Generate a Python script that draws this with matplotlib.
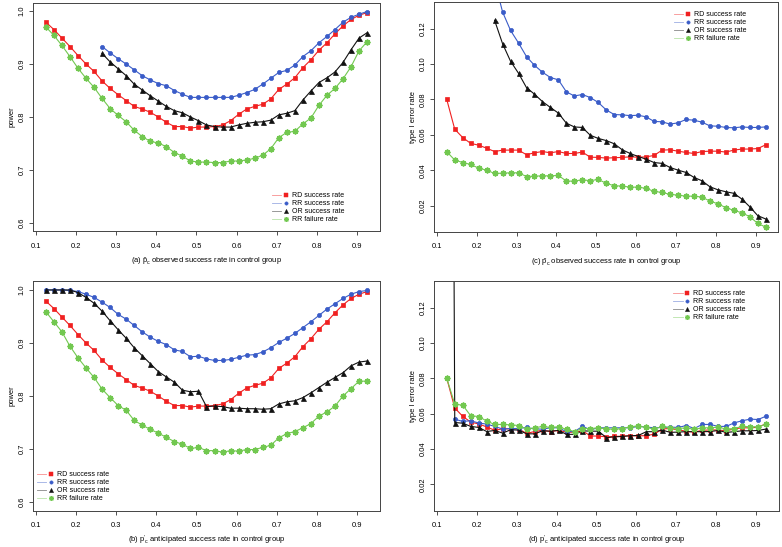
import numpy as np
import matplotlib
matplotlib.use("Agg")
import matplotlib.pyplot as plt
from matplotlib.lines import Line2D
from matplotlib.legend_handler import HandlerTuple

plt.rcParams['font.family'] = ['Liberation Sans', 'DejaVu Sans']
plt.rcParams['mathtext.default'] = 'regular'

nan = np.nan

# control-group success rate (x axis)
p_c = [0.125, 0.145, 0.165, 0.185, 0.205, 0.225, 0.245, 0.265, 0.285, 0.305,
       0.325, 0.345, 0.365, 0.385, 0.405, 0.425, 0.445, 0.465, 0.485, 0.505,
       0.525, 0.545, 0.565, 0.585, 0.605, 0.625, 0.645, 0.665, 0.685, 0.705,
       0.725, 0.745, 0.765, 0.785, 0.805, 0.825, 0.845, 0.865, 0.885, 0.905,
       0.925]

# power, RD success rate (same in panels a and b)
rd_power = [0.979, 0.965, 0.949, 0.933, 0.916, 0.900, 0.886, 0.868, 0.854, 0.842,
            0.831, 0.820, 0.815, 0.809, 0.800, 0.790, 0.782, 0.782, 0.779, 0.781,
            0.781, 0.782, 0.785, 0.793, 0.805, 0.815, 0.820, 0.824, 0.834, 0.852,
            0.862, 0.874, 0.893, 0.908, 0.926, 0.940, 0.957, 0.972, 0.984, 0.992,
            0.997]

# panel (a): observed p_c
rr_power_a = [nan, nan, nan, nan, nan, nan, nan, 0.933, 0.921, 0.910,
              0.900, 0.889, 0.878, 0.870, 0.863, 0.859, 0.850, 0.843, 0.837, 0.837,
              0.837, 0.837, 0.837, 0.837, 0.841, 0.846, 0.852, 0.862, 0.873, 0.884,
              0.888, 0.898, 0.914, 0.925, 0.940, 0.952, 0.965, 0.979, 0.988, 0.994,
              0.999]
or_power_a = [nan, nan, nan, nan, nan, nan, nan, 0.920, 0.904, 0.891,
              0.878, 0.862, 0.851, 0.840, 0.830, 0.820, 0.812, 0.808, 0.800, 0.793,
              0.785, 0.782, 0.781, 0.781, 0.785, 0.788, 0.790, 0.791, 0.794, 0.804,
              0.807, 0.812, 0.832, 0.849, 0.865, 0.874, 0.885, 0.903, 0.927, 0.949,
              0.959]
rrf_power_a = [0.970, 0.954, 0.935, 0.914, 0.892, 0.873, 0.856, 0.835, 0.816, 0.803,
               0.791, 0.775, 0.763, 0.754, 0.751, 0.744, 0.733, 0.726, 0.717, 0.715,
               0.715, 0.714, 0.714, 0.717, 0.717, 0.719, 0.722, 0.728, 0.740, 0.761,
               0.771, 0.773, 0.787, 0.798, 0.822, 0.841, 0.854, 0.872, 0.895, 0.925,
               0.942]

# panel (b): anticipated p'_c
rr_power_b = [1.000, 1.000, 1.000, 0.999, 0.997, 0.992, 0.986, 0.977, 0.967, 0.954,
              0.945, 0.933, 0.921, 0.911, 0.903, 0.897, 0.887, 0.884, 0.874, 0.875,
              0.870, 0.867, 0.867, 0.869, 0.873, 0.877, 0.878, 0.883, 0.891, 0.901,
              0.909, 0.918, 0.929, 0.940, 0.952, 0.964, 0.974, 0.984, 0.992, 0.997,
              0.999]
or_power_b = [1.000, 1.000, 1.000, 1.000, 0.995, 0.986, 0.975, 0.960, 0.942, 0.925,
              0.909, 0.891, 0.876, 0.861, 0.846, 0.836, 0.826, 0.811, 0.808, 0.809,
              0.780, 0.781, 0.780, 0.777, 0.777, 0.776, 0.776, 0.775, 0.776, 0.785,
              0.789, 0.791, 0.797, 0.806, 0.816, 0.826, 0.835, 0.844, 0.857, 0.864,
              0.866]
rrf_power_b = [0.959, 0.940, 0.921, 0.894, 0.872, 0.853, 0.835, 0.813, 0.797, 0.782,
               0.773, 0.754, 0.745, 0.737, 0.730, 0.722, 0.714, 0.709, 0.701, 0.703,
               0.697, 0.697, 0.694, 0.697, 0.696, 0.699, 0.699, 0.703, 0.707, 0.721,
               0.729, 0.733, 0.740, 0.748, 0.762, 0.770, 0.781, 0.800, 0.814, 0.828,
               0.828]

# type I error, RD success rate (same in panels c and d)
rd_t1 = [0.0800, 0.0632, 0.0585, 0.0552, 0.0542, 0.0525, 0.0506, 0.0514, 0.0514, 0.0514,
         0.0488, 0.0499, 0.0506, 0.0499, 0.0506, 0.0495, 0.0495, 0.0503, 0.0474, 0.0473,
         0.0469, 0.0471, 0.0473, 0.0476, 0.0474, 0.0476, 0.0484, 0.0514, 0.0516, 0.0508,
         0.0501, 0.0495, 0.0506, 0.0508, 0.0508, 0.0503, 0.0514, 0.0520, 0.0520, 0.0523,
         0.0544]

# panel (c): observed p_c
rr_t1_c = [nan, nan, nan, nan, nan, nan, 0.1470, 0.1294, 0.1190, 0.1119,
           0.1042, 0.0993, 0.0954, 0.0924, 0.0911, 0.0843, 0.0820, 0.0828, 0.0811, 0.0783,
           0.0741, 0.0715, 0.0713, 0.0709, 0.0711, 0.0702, 0.0676, 0.0674, 0.0661, 0.0668,
           0.0687, 0.0683, 0.0672, 0.0651, 0.0649, 0.0642, 0.0640, 0.0645, 0.0642, 0.0642,
           0.0645]
or_t1_c = [nan, nan, nan, nan, nan, nan, 0.1247, 0.1115, 0.1016, 0.0948,
           0.0867, 0.0830, 0.0788, 0.0755, 0.0723, 0.0666, 0.0645, 0.0642, 0.0598, 0.0580,
           0.0568, 0.0550, 0.0516, 0.0495, 0.0478, 0.0463, 0.0444, 0.0439, 0.0416, 0.0401,
           0.0388, 0.0360, 0.0341, 0.0307, 0.0290, 0.0279, 0.0270, 0.0238, 0.0194, 0.0144,
           0.0125]
rrf_t1_c = [0.0505, 0.0458, 0.0444, 0.0433, 0.0412, 0.0401, 0.0382, 0.0384, 0.0386, 0.0386,
            0.0365, 0.0367, 0.0369, 0.0369, 0.0371, 0.0339, 0.0339, 0.0347, 0.0341, 0.0349,
            0.0326, 0.0313, 0.0311, 0.0305, 0.0305, 0.0298, 0.0281, 0.0275, 0.0264, 0.0260,
            0.0254, 0.0254, 0.0249, 0.0226, 0.0211, 0.0189, 0.0174, 0.0160, 0.0138, 0.0100,
            0.0079]

# panel (d): anticipated p'_c
rr_t1_d = [nan, 0.0569, 0.0556, 0.0560, 0.0547, 0.0541, 0.0528, 0.0513, 0.0516, 0.0516,
           0.0522, 0.0513, 0.0513, 0.0520, 0.0520, 0.0498, 0.0499, 0.0528, 0.0509, 0.0520,
           0.0520, 0.0520, 0.0520, 0.0520, 0.0528, 0.0524, 0.0520, 0.0522, 0.0524, 0.0522,
           0.0533, 0.0516, 0.0539, 0.0539, 0.0528, 0.0528, 0.0548, 0.0560, 0.0569, 0.0567,
           0.0586]
or_t1_d = [1.0000, 0.0550, 0.0546, 0.0528, 0.0522, 0.0499, 0.0505, 0.0490, 0.0509, 0.0507,
           0.0486, 0.0486, 0.0503, 0.0501, 0.0505, 0.0483, 0.0483, 0.0503, 0.0501, 0.0501,
           0.0464, 0.0469, 0.0471, 0.0475, 0.0477, 0.0498, 0.0498, 0.0507, 0.0494, 0.0496,
           0.0498, 0.0498, 0.0498, 0.0499, 0.0505, 0.0494, 0.0498, 0.0503, 0.0503, 0.0505,
           0.0513]
rrf_t1_d = [0.0800, 0.0654, 0.0648, 0.0588, 0.0584, 0.0558, 0.0539, 0.0539, 0.0537, 0.0533,
            0.0513, 0.0520, 0.0528, 0.0522, 0.0526, 0.0511, 0.0499, 0.0516, 0.0516, 0.0520,
            0.0514, 0.0511, 0.0516, 0.0526, 0.0531, 0.0522, 0.0513, 0.0528, 0.0520, 0.0516,
            0.0520, 0.0511, 0.0520, 0.0520, 0.0524, 0.0513, 0.0516, 0.0528, 0.0526, 0.0526,
            0.0539]

labels = ["RD success rate", "RR success rate", "OR success rate", "RR failure rate"]
colors = ["#f02020", "#3a5cc8", "#111111", "#72c850"]
markers = ["s", "o", "^", (8, 2, 0)]
msizes = [3, 3, 3.6, 4.2]
mews = [0.5, 0.5, 0.5, 1.1]

FS = 5.4


def panel(ax, series, ylim, yticks, yfmt, ylabel, xlabel, leg_xy):
    for y, c, m, ms, mew in zip(series, colors, markers, msizes, mews):
        ax.plot(p_c, y, color=c, lw=0.8, marker=m, ms=ms, mec=c, mfc=c, mew=mew)
    ax.set_xlim(0.093, 0.957)
    ax.set_ylim(*ylim)
    ax.set_xticks([0.1, 0.2, 0.3, 0.4, 0.5, 0.6, 0.7, 0.8, 0.9])
    ax.set_yticks(yticks)
    ax.set_yticklabels([yfmt % v for v in yticks], rotation=90, va="center")
    ax.tick_params(labelsize=FS, length=3, width=0.6, color="#333333")
    ax.tick_params(axis="x", pad=5)
    ax.tick_params(axis="y", pad=2.5)
    for s in ax.spines.values():
        s.set_linewidth(0.7)
        s.set_color("#444444")
    ax.set_ylabel(ylabel, fontsize=FS, labelpad=2)
    ax.set_xlabel(xlabel, fontsize=FS, labelpad=4)

    handles = []
    for c, m, ms, mew in zip(colors, markers, msizes, mews):
        ln = Line2D([], [], color=c, lw=0.6, alpha=0.5)
        mk = Line2D([], [], color=c, lw=0, marker=m, ms=ms - 0.6, mec=c, mfc=c, mew=mew * 0.7)
        handles.append((ln, mk))
    ax.legend(handles, labels, handler_map={tuple: HandlerTuple(ndivide=None)},
              loc="upper left", bbox_to_anchor=leg_xy, frameon=False, fontsize=5,
              borderpad=0, borderaxespad=0, handlelength=2.7, handletextpad=0.2,
              labelspacing=0.15)


fig = plt.figure(figsize=(7.82, 5.47), dpi=100)
ax_a = fig.add_axes([0.0422, 0.5768, 0.4437, 0.4186])
ax_c = fig.add_axes([0.5550, 0.5760, 0.4405, 0.4195])
ax_b = fig.add_axes([0.0422, 0.0667, 0.4437, 0.4187])
ax_d = fig.add_axes([0.5550, 0.0667, 0.4410, 0.4187])

pow_ticks = [0.6, 0.7, 0.8, 0.9, 1.0]
err_ticks = [0.02, 0.04, 0.06, 0.08, 0.10, 0.12]

panel(ax_a, [rd_power, rr_power_a, or_power_a, rrf_power_a], (0.584, 1.016),
      pow_ticks, "%.1f", "power",
      r"(a) $\hat{p}_c$ observed success rate in control group", (0.689, 0.172))
panel(ax_b, [rd_power, rr_power_b, or_power_b, rrf_power_b], (0.584, 1.016),
      pow_ticks, "%.1f", "power",
      r"(b) $p'_c$ anticipated success rate in control group", (0.0115, 0.172))
panel(ax_c, [rd_t1, rr_t1_c, or_t1_c, rrf_t1_c], (0.0052, 0.1348),
      err_ticks, "%.2f", "type I error rate",
      r"(c) $\hat{p}_c$ observed success rate in control group", (0.697, 0.963))
panel(ax_d, [rd_t1, rr_t1_d, or_t1_d, rrf_t1_d], (0.0052, 0.1348),
      err_ticks, "%.2f", "type I error rate",
      r"(d) $p'_c$ anticipated success rate in control group", (0.694, 0.963))

fig.savefig("out.png", dpi=100)
